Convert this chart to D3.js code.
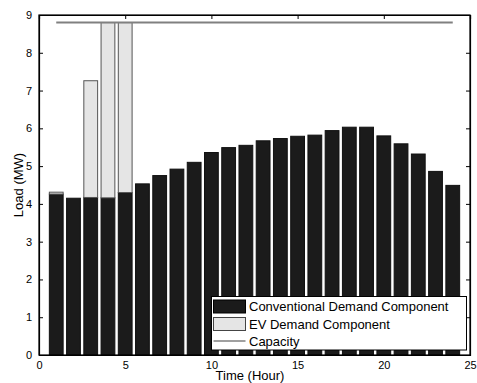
<!DOCTYPE html>
<html>
<head>
<meta charset="utf-8">
<script src="https://cdn.jsdelivr.net/npm/d3@7"></script>
<style>
  html, body { margin: 0; padding: 0; background: #fff; }
  svg { display: block; font-family: "Liberation Sans", Arial, Helvetica, sans-serif; }
</style>
</head>
<body>
<script>
// Hourly load profile: conventional demand plus EV charging demand (MW)
const hours = d3.range(1, 25);
const conventional = [4.26, 4.15, 4.17, 4.16, 4.30, 4.53, 4.75, 4.92, 5.10, 5.36, 5.49, 5.55,
                      5.67, 5.73, 5.79, 5.82, 5.94, 6.03, 6.03, 5.80, 5.59, 5.32, 4.86, 4.49];
const ev =           [0.05, 0, 3.09, 4.64, 4.50, 0, 0, 0, 0, 0, 0, 0,
                      0, 0, 0, 0, 0, 0, 0, 0, 0, 0, 0, 0];
const capacity = 8.8;
const xTicks = [0, 5, 10, 15, 20, 25];
const yTicks = [0, 1, 2, 3, 4, 5, 6, 7, 8, 9];
const legendLabels = ["Conventional Demand Component", "EV Demand Component", "Capacity"];

const W = 477, H = 383;
const m = { left: 39, right: 7, top: 15, bottom: 28 };
const x = d3.scaleLinear().domain([0, 25]).range([m.left, W - m.right]);
const y = d3.scaleLinear().domain([0, 9]).range([H - m.bottom, m.top]);
const barW = x(0.8) - x(0);

const svg = d3.select("body").append("svg").attr("width", W).attr("height", H);

// stacked bars
const g = svg.append("g");
g.selectAll("rect.conv").data(hours).join("rect")
  .attr("class", "conv")
  .attr("x", (h) => x(h) - barW / 2)
  .attr("width", barW)
  .attr("y", (h, i) => y(conventional[i]))
  .attr("height", (h, i) => y(0) - y(conventional[i]))
  .attr("fill", "#1b1b1b")
  .attr("stroke", "#111")
  .attr("stroke-width", 1);

g.selectAll("rect.ev").data(hours.filter((h, i) => ev[i] > 0)).join("rect")
  .attr("class", "ev")
  .attr("x", (h) => x(h) - barW / 2)
  .attr("width", barW)
  .attr("y", (h) => y(conventional[h - 1] + ev[h - 1]))
  .attr("height", (h) => y(conventional[h - 1]) - y(conventional[h - 1] + ev[h - 1]))
  .attr("fill", "#e5e5e5")
  .attr("stroke", "#555")
  .attr("stroke-width", 1);

// capacity line
svg.append("line")
  .attr("x1", x(1)).attr("x2", x(24))
  .attr("y1", y(capacity)).attr("y2", y(capacity))
  .attr("stroke", "#808080").attr("stroke-width", 2);

// axes with inward ticks
const axB = svg.append("g").attr("transform", `translate(0,${y(0)})`)
  .call(d3.axisBottom(x).tickValues(xTicks).tickSize(0).tickPadding(6).tickFormat(d3.format("d")));
const axL = svg.append("g").attr("transform", `translate(${x(0)},0)`)
  .call(d3.axisLeft(y).tickValues(yTicks).tickSize(-4).tickPadding(7).tickFormat(d3.format("d")));
const axT = svg.append("g").attr("transform", `translate(0,${y(9)})`)
  .call(d3.axisTop(x).tickValues(xTicks).tickSize(-4).tickFormat(""));
const axR = svg.append("g").attr("transform", `translate(${x(25)},0)`)
  .call(d3.axisRight(y).tickValues(yTicks).tickSize(-4).tickFormat(""));
[axB, axL, axT, axR].forEach((a) => {
  a.select(".domain").attr("stroke", "#000").attr("stroke-width", 1.2);
  a.selectAll(".tick line").attr("stroke", "#000");
  a.selectAll("text").attr("font-size", 11).attr("font-family", "Liberation Sans, Arial, sans-serif").attr("fill", "#000");
});
// keep box corners flush
svg.append("rect")
  .attr("x", x(0)).attr("y", y(9))
  .attr("width", x(25) - x(0)).attr("height", y(0) - y(9))
  .attr("fill", "none").attr("stroke", "#000").attr("stroke-width", 1.2);

// axis titles
svg.append("text")
  .attr("x", 250).attr("y", 380)
  .attr("text-anchor", "middle").attr("font-size", 13)
  .text("Time (Hour)");
svg.append("text")
  .attr("transform", `translate(23,${(y(0) + y(9)) / 2}) rotate(-90)`)
  .attr("text-anchor", "middle").attr("font-size", 13)
  .text("Load (MW)");

// legend
const lg = svg.append("g").attr("transform", "translate(211.5,296.5)");
lg.append("rect").attr("width", 255).attr("height", 53.5)
  .attr("fill", "#fff").attr("stroke", "#000").attr("stroke-width", 1);
const rowY = [10, 27.5, 44.5];
lg.append("rect").attr("x", 2).attr("y", rowY[0] - 6.5).attr("width", 32).attr("height", 13)
  .attr("fill", "#1b1b1b").attr("stroke", "#000");
lg.append("rect").attr("x", 2).attr("y", rowY[1] - 6.5).attr("width", 32).attr("height", 13)
  .attr("fill", "#e5e5e5").attr("stroke", "#444");
lg.append("line").attr("x1", 2).attr("x2", 34).attr("y1", rowY[2]).attr("y2", rowY[2])
  .attr("stroke", "#808080").attr("stroke-width", 1.5);
lg.selectAll("text.lab").data(legendLabels).join("text")
  .attr("class", "lab")
  .attr("x", 37.5).attr("y", (d, i) => rowY[i])
  .attr("dy", "0.36em").attr("font-size", 13)
  .text((d) => d);
</script>
</body>
</html>
